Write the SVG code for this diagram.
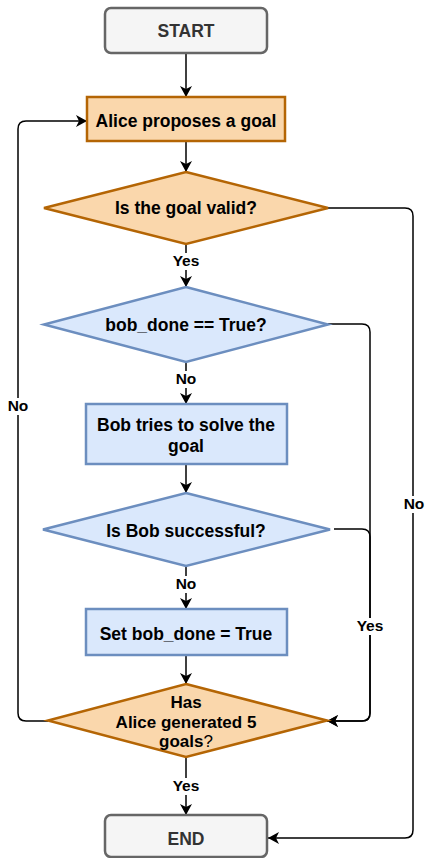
<svg xmlns="http://www.w3.org/2000/svg" width="428" height="858" viewBox="0 0 428 858">
<style>
.t{font-family:"Liberation Sans",Arial,Helvetica,sans-serif;font-weight:bold;font-size:17.5px;text-anchor:middle;fill:#000}
.s{font-size:17px}
.g{fill:#333333}
.lbl{font-family:"Liberation Sans",Arial,Helvetica,sans-serif;font-weight:bold;font-size:15.5px;text-anchor:middle;fill:#000}
.or{fill:#fad7ac;stroke:#b46504;stroke-width:2.5}
.bl{fill:#dae8fc;stroke:#6c8ebf;stroke-width:2.5}
.gr{fill:#f5f5f5;stroke:#666666;stroke-width:2.5}
.e{fill:none;stroke:#000;stroke-width:1.5}
.bg{fill:#fff}
</style>
<defs>
<marker id="arr" viewBox="0 0 11 12" refX="11" refY="6" markerWidth="11" markerHeight="12" markerUnits="userSpaceOnUse" orient="auto">
<path d="M0,0 L11,6 L0,12 L3,6 z" fill="#000"/>
</marker>
</defs>
<g id="connectors">
<path class="e" d="M186,53 V97" marker-end="url(#arr)"/>
<path class="e" d="M186,141 V172" marker-end="url(#arr)"/>
<path class="e" d="M186,244 V287" marker-end="url(#arr)"/>
<path class="e" d="M186,362 V404" marker-end="url(#arr)"/>
<path class="e" d="M186,464 V493" marker-end="url(#arr)"/>
<path class="e" d="M186,566 V609" marker-end="url(#arr)"/>
<path class="e" d="M186,655 V684" marker-end="url(#arr)"/>
<path class="e" d="M186,757 V815" marker-end="url(#arr)"/>
<path class="e" d="M48,721 H26 Q18,721 18,713 V129 Q18,121 26,121 H87" marker-end="url(#arr)"/>
<path class="e" d="M328,208 H405 Q413,208 413,216 V830 Q413,838 405,838 H268" marker-end="url(#arr)"/>
<path class="e" d="M328,324 H362 Q370,324 370,332 V713 Q370,721 362,721 H327" marker-end="url(#arr)"/>
<path class="e" d="M334,529 H362 Q370,529 370,537 V713 Q370,721 362,721 H327" marker-end="url(#arr)"/>
<rect class="bg" x="170" y="253" width="32" height="17"/>
<text class="lbl" x="186" y="266">Yes</text>
<rect class="bg" x="174" y="371" width="24" height="17"/>
<text class="lbl" x="186" y="384">No</text>
<rect class="bg" x="174" y="576" width="24" height="17"/>
<text class="lbl" x="186" y="589">No</text>
<rect class="bg" x="170" y="778" width="32" height="17"/>
<text class="lbl" x="186" y="791">Yes</text>
<rect class="bg" x="6" y="398" width="24" height="17"/>
<text class="lbl" x="18" y="411">No</text>
<rect class="bg" x="401" y="496" width="24" height="17"/>
<text class="lbl" x="414" y="509">No</text>
<rect class="bg" x="354" y="618" width="32" height="17"/>
<text class="lbl" x="370" y="631">Yes</text>
</g>
<g id="start">
<rect class="gr" x="105" y="8" width="162" height="45" rx="6"/>
<text class="t g" x="186" y="37">START</text>
</g>
<g id="alice-proposes">
<rect class="or" x="87" y="97" width="198" height="44"/>
<text class="t" x="186" y="127">Alice proposes a goal</text>
</g>
<g id="goal-valid">
<polygon class="or" points="186,172 328,208 186,244 44,208"/>
<text class="t" x="186" y="214">Is the goal valid?</text>
</g>
<g id="bob-done">
<polygon class="bl" points="186,287 328,324.5 186,362 44,324.5"/>
<text class="t" x="186" y="331">bob_done == True?</text>
</g>
<g id="bob-tries">
<rect class="bl" x="86" y="404" width="201" height="60"/>
<text class="t" x="186" y="431">Bob tries to solve the</text>
<text class="t" x="186" y="452">goal</text>
</g>
<g id="bob-successful">
<polygon class="bl" points="186,493 330,529.5 186,566 43,529.5"/>
<text class="t" x="186" y="537">Is Bob successful?</text>
</g>
<g id="set-bob-done">
<rect class="bl" x="86" y="609" width="201" height="46"/>
<text class="t" x="186" y="640">Set bob_done = True</text>
</g>
<g id="five-goals">
<polygon class="or" points="186,684 327,720.5 186,757 48,720.5"/>
<text class="t s" x="186" y="708">Has</text>
<text class="t s" x="186" y="727.5">Alice generated 5</text>
<text class="t s" x="186" y="747">goals<tspan font-weight="normal">?</tspan></text>
</g>
<g id="end">
<rect class="gr" x="105" y="815" width="162" height="42" rx="6"/>
<text class="t g" x="186" y="845">END</text>
</g>
</svg>
